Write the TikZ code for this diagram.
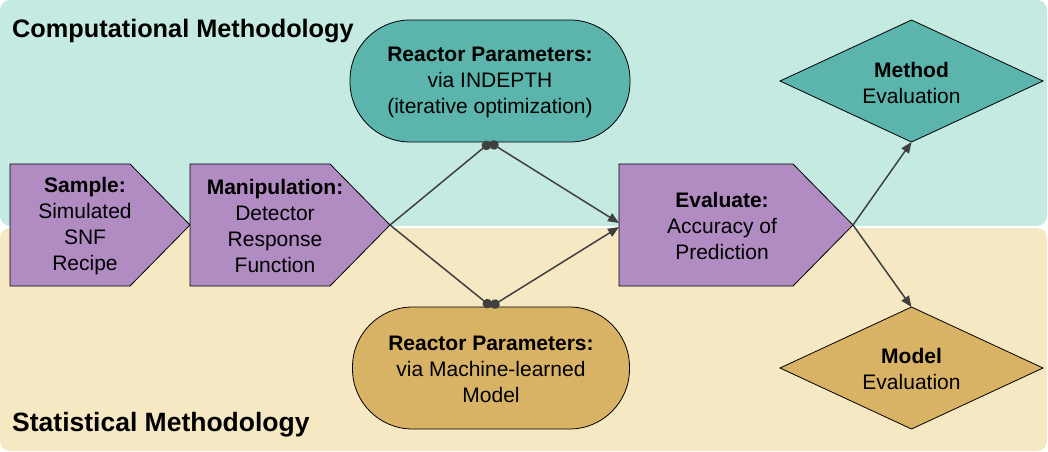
\documentclass[tikz,border=0pt]{standalone}
\usepackage{fontspec}
\setmainfont{Liberation Sans}
\usetikzlibrary{arrows.meta}
\definecolor{tealbg}{HTML}{C5EAE2}
\definecolor{beigebg}{HTML}{F7E8C4}
\definecolor{tealfill}{HTML}{5BB5AC}
\definecolor{tanfill}{HTML}{D8B265}
\definecolor{purpfill}{HTML}{B18CC3}
\definecolor{linegray}{HTML}{404040}
\tikzset{
  shapeline/.style={draw=black, line width=0.8pt},
  arrowbox/.style={shapeline, fill=purpfill},
  stadium/.style={shapeline, rectangle, rounded corners=60pt, inner sep=0pt},
  lbl/.style={align=center, font=\fontsize{21}{26}\selectfont, inner sep=0pt},
  titletext/.style={anchor=base west, font=\bfseries\fontsize{25.3}{30}\selectfont, inner sep=0pt},
  conn/.style={draw=linegray, line width=1.5pt},
  tri/.style={-{Triangle[length=11pt,width=9pt]}},
}
\begin{document}
\begin{tikzpicture}[x=1pt,y=-1pt]
\useasboundingbox (0,0) rectangle (1048,451);
% backgrounds
\fill[tealbg, rounded corners=10pt] (0,0) rectangle (1047,226);
\fill[beigebg, rounded corners=10pt] (0,228) rectangle (1047,451);
% titles
\node[titletext] (ctitle) at (12,37) {Computational Methodology};
\node[titletext, font=\bfseries\fontsize{26.5}{30}\selectfont] (stitle) at (12,431) {Statistical Methodology};
% pentagon boxes
\path[arrowbox] (10,164) -- (130,164) -- (190,225) -- (130,286) -- (10,286) -- cycle;
\path[arrowbox] (190,164) -- (330,164) -- (390,225) -- (330,286) -- (190,286) -- cycle;
\path[arrowbox] (619,164) -- (793,164) -- (853,225) -- (793,286) -- (619,286) -- cycle;
\coordinate (manipTip) at (390,225);
\coordinate (evalIn1) at (619,223);
\coordinate (evalIn2) at (619,227);
\coordinate (evalTip) at (853,225);
\node[lbl] (sample) at (85,226) {\textbf{Sample:}\\Simulated\\SNF\\Recipe};
\node[lbl] (manip) at (275,226) {\textbf{Manipulation:}\\Detector\\Response\\Function};
\node[lbl] (eval) at (722,226) {\textbf{Evaluate:}\\Accuracy of\\Prediction};
% reactor boxes
\node[stadium, fill=tealfill, minimum width=280pt, minimum height=122pt] (topR) at (490,81) {};
\node[lbl] (topRt) at (490,82) {\textbf{Reactor Parameters:}\\via INDEPTH\\(iterative optimization)};
\node[stadium, fill=tanfill, minimum width=277pt, minimum height=122pt] (botR) at (491,368) {};
\node[lbl] (botRt) at (491,369) {\textbf{Reactor Parameters:}\\via Machine-learned\\Model};
% diamonds
\path[shapeline, fill=tealfill] (780,81) -- (911.5,20) -- (1043,81) -- (911.5,142) -- cycle;
\coordinate (methS) at (911.5,142);
\node[lbl] (meth) at (911.5,83) {\textbf{Method}\\Evaluation};
\path[shapeline, fill=tanfill] (780,368) -- (911.5,307) -- (1043,368) -- (911.5,429) -- cycle;
\coordinate (modN) at (911.5,307);
\node[lbl] (model) at (911.5,369) {\textbf{Model}\\Evaluation};
% connectors
\draw[conn, -{Circle[length=9.5pt]}] (manipTip) -- (topR.south);
\draw[conn, {Circle[length=9.5pt]}-{Triangle[length=11pt,width=9pt]}] (topR.south) -- (evalIn1);
\draw[conn, -{Circle[length=9.5pt]}] (manipTip) -- (botR.north);
\draw[conn, {Circle[length=9.5pt]}-{Triangle[length=11pt,width=9pt]}] (botR.north) -- (evalIn2);
\draw[conn, tri] (evalTip) -- (methS);
\draw[conn, tri] (evalTip) -- (modN);
\end{tikzpicture}
\end{document}
